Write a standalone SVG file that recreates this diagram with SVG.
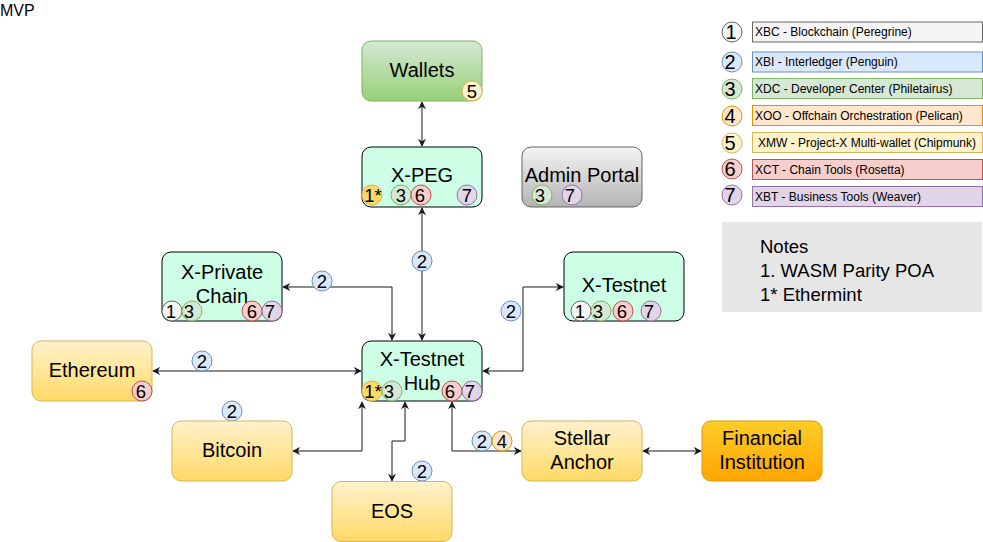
<svg xmlns="http://www.w3.org/2000/svg" width="983" height="542" viewBox="0 0 983 542">
<defs>
<linearGradient id="gY" x1="0" y1="0" x2="0" y2="1"><stop offset="0" stop-color="#fff2cc"/><stop offset="1" stop-color="#ffd966"/></linearGradient>
<linearGradient id="gG" x1="0" y1="0" x2="0" y2="1"><stop offset="0" stop-color="#d5e8d4"/><stop offset="1" stop-color="#97d077"/></linearGradient>
<linearGradient id="gA" x1="0" y1="0" x2="0" y2="1"><stop offset="0" stop-color="#f5f5f5"/><stop offset="1" stop-color="#b3b3b3"/></linearGradient>
<linearGradient id="gO" x1="0" y1="0" x2="0" y2="1"><stop offset="0" stop-color="#ffcd28"/><stop offset="1" stop-color="#ffa500"/></linearGradient>
<marker id="ah" viewBox="0 0 10 10" refX="9" refY="5" markerWidth="8" markerHeight="8" orient="auto-start-reverse" markerUnits="userSpaceOnUse">
<path d="M0,0 L10,5 L0,10 L3,5 Z" fill="#1a1a1a"/>
</marker>
</defs>
<style>
text{font-family:"Liberation Sans",Arial,Helvetica,sans-serif;fill:#000}
.t{font-size:20px;text-anchor:middle}
.b{font-size:18.5px;text-anchor:middle}
.lg{font-size:12px}
.mint{fill:#ccffe6;stroke:#000;stroke-width:1}
.yel{fill:url(#gY);stroke:#d6b656}
.c1{fill:#f5f5f5;stroke:#666666}
.c2{fill:#dae8fc;stroke:#6c8ebf}
.c3{fill:#d5e8d4;stroke:#82b366}
.c4{fill:#ffe6cc;stroke:#d79b00}
.c5{fill:#fff2cc;stroke:#d6b656}
.c6{fill:#f8cecc;stroke:#b85450}
.c7{fill:#e1d5e7;stroke:#9673a6}
.c1s{fill:#ffd966;stroke:#d6b656}
.e{fill:none;stroke:#1a1a1a;stroke-width:1;marker-start:url(#ah);marker-end:url(#ah)}
</style>

<text x="0" y="16" style="font-size:16px">MVP</text>

<g id="connectors">
<path class="e" d="M422,102 L422,146"/>
<path class="e" d="M422,208 L422,340"/>
<path class="e" d="M283,287 L392,287 L392,340"/>
<path class="e" d="M483,371 L523,371 L523,287 L563,287"/>
<path class="e" d="M153,371 L361,371"/>
<path class="e" d="M293,451 L362,451 L362,402"/>
<path class="e" d="M392,481 L392,441 L405,441 L405,402"/>
<path class="e" d="M452,402 L452,451 L521,451"/>
<path class="e" d="M643,451 L701,451"/>
</g>

<g id="edge-labels">
<circle class="c2" cx="422" cy="261" r="10"/><text class="b" x="422" y="267.5">2</text>
<circle class="c2" cx="322" cy="281" r="10"/><text class="b" x="322" y="287.5">2</text>
<circle class="c2" cx="511" cy="311" r="10"/><text class="b" x="511" y="317.5">2</text>
<circle class="c2" cx="202" cy="361" r="10"/><text class="b" x="202" y="367.5">2</text>
<circle class="c2" cx="232" cy="411" r="10"/><text class="b" x="232" y="417.5">2</text>
<circle class="c2" cx="422" cy="471" r="10"/><text class="b" x="422" y="477.5">2</text>
<circle class="c2" cx="482" cy="441" r="10"/><text class="b" x="482" y="447.5">2</text>
<circle class="c4" cx="502" cy="441" r="10"/><text class="b" x="502" y="447.5">4</text>
</g>

<g id="wallets">
<rect x="362" y="41" width="120" height="60" rx="9" fill="url(#gG)" stroke="#82b366"/>
<text class="t" x="422" y="77">Wallets</text>
<circle class="c5" cx="472" cy="91" r="10"/><text class="b" x="472" y="97.5">5</text>
</g>

<g id="xpeg">
<rect class="mint" x="362" y="147" width="120" height="60" rx="9"/>
<text class="t" x="422" y="182">X-PEG</text>
<circle class="c1s" cx="372" cy="195" r="10"/><text class="b" x="373" y="201.5">1*</text>
<circle class="c3" cx="401" cy="195" r="10"/><text class="b" x="401" y="201.5">3</text>
<circle class="c6" cx="421" cy="195" r="10"/><text class="b" x="420" y="201.5">6</text>
<circle class="c7" cx="467" cy="195" r="10"/><text class="b" x="467" y="201.5">7</text>
</g>

<g id="admin">
<rect x="522" y="147" width="120" height="60" rx="9" fill="url(#gA)" stroke="#666666"/>
<text class="t" x="582" y="182">Admin Portal</text>
<circle class="c3" cx="542" cy="195" r="10"/><text class="b" x="540" y="201.5">3</text>
<circle class="c7" cx="572" cy="195" r="10"/><text class="b" x="570" y="201.5">7</text>
</g>

<g id="xprivate">
<rect class="mint" x="162" y="252" width="120" height="69" rx="9"/>
<text class="t" x="222" y="279">X-Private</text>
<text class="t" x="222" y="303">Chain</text>
<circle class="c1" cx="172" cy="311" r="10"/><text class="b" x="171" y="317.5">1</text>
<circle class="c3" cx="192" cy="311" r="10"/><text class="b" x="189" y="317.5">3</text>
<circle class="c6" cx="252" cy="311" r="10"/><text class="b" x="252" y="317.5">6</text>
<circle class="c7" cx="272" cy="311" r="10"/><text class="b" x="270" y="317.5">7</text>
</g>

<g id="xtestnet">
<rect class="mint" x="564" y="252" width="120" height="69" rx="9"/>
<text class="t" x="624" y="292">X-Testnet</text>
<circle class="c1" cx="581" cy="311" r="10"/><text class="b" x="580" y="317.5">1</text>
<circle class="c3" cx="601" cy="311" r="10"/><text class="b" x="598" y="317.5">3</text>
<circle class="c6" cx="623" cy="311" r="10"/><text class="b" x="622" y="317.5">6</text>
<circle class="c7" cx="651" cy="311" r="10"/><text class="b" x="649" y="317.5">7</text>
</g>

<g id="hub">
<rect class="mint" x="362" y="341" width="120" height="60" rx="9"/>
<text class="t" x="422" y="366">X-Testnet</text>
<text class="t" x="422" y="390">Hub</text>
<circle class="c1s" cx="372" cy="391" r="10"/>
<circle class="c3" cx="392" cy="391" r="10"/>
<text class="b" x="373" y="397.5">1*</text><text class="b" x="389" y="397.5">3</text>
<circle class="c6" cx="452" cy="391" r="10"/><text class="b" x="450" y="397.5">6</text>
<circle class="c7" cx="472" cy="391" r="10"/><text class="b" x="470" y="397.5">7</text>
</g>

<g id="ethereum">
<rect class="yel" x="32" y="341" width="120" height="60" rx="9"/>
<text class="t" x="92" y="377">Ethereum</text>
<circle class="c6" cx="142" cy="391" r="10"/><text class="b" x="141" y="397.5">6</text>
</g>

<g id="bitcoin">
<rect class="yel" x="172" y="421" width="120" height="60" rx="9"/>
<text class="t" x="232" y="457">Bitcoin</text>
</g>

<g id="eos">
<rect class="yel" x="332" y="481.5" width="120" height="60" rx="9"/>
<text class="t" x="392" y="518">EOS</text>
</g>

<g id="stellar">
<rect class="yel" x="522" y="421" width="120" height="60" rx="9"/>
<text class="t" x="582" y="445">Stellar</text>
<text class="t" x="582" y="469">Anchor</text>
</g>

<g id="financial">
<rect x="702" y="421" width="120" height="60" rx="9" fill="url(#gO)" stroke="#d79b00"/>
<text class="t" x="762" y="445">Financial</text>
<text class="t" x="762" y="469">Institution</text>
</g>

<g id="legend">
<circle class="c1" cx="732" cy="32" r="10"/><text class="b" x="731" y="39" style="font-size:20px">1</text>
<rect class="c1" x="752.5" y="22" width="230" height="20"/><text class="lg" x="755" y="36">XBC - Blockchain (Peregrine)</text>
<circle class="c2" cx="732" cy="62" r="10"/><text class="b" x="730" y="69" style="font-size:20px">2</text>
<rect class="c2" x="752.5" y="52" width="230" height="20"/><text class="lg" x="755" y="66">XBI - Interledger (Penguin)</text>
<circle class="c3" cx="732" cy="89" r="10"/><text class="b" x="730" y="96" style="font-size:20px">3</text>
<rect class="c3" x="752.5" y="78.5" width="230" height="20"/><text class="lg" x="755" y="93">XDC - Developer Center (Philetairus)</text>
<circle class="c4" cx="732" cy="116" r="10"/><text class="b" x="730" y="123" style="font-size:20px">4</text>
<rect class="c4" x="752.5" y="105.5" width="230" height="20"/><text class="lg" x="755" y="120">XOO - Offchain Orchestration  (Pelican)</text>
<circle class="c5" cx="732" cy="143" r="10"/><text class="b" x="730" y="150" style="font-size:20px">5</text>
<rect class="c5" x="752.5" y="132.5" width="230" height="20"/><text class="lg" x="758" y="147">XMW - Project-X Multi-wallet (Chipmunk)</text>
<circle class="c6" cx="732" cy="169" r="10"/><text class="b" x="730" y="176" style="font-size:20px">6</text>
<rect class="c6" x="752.5" y="159.5" width="230" height="20"/><text class="lg" x="755" y="174">XCT - Chain Tools (Rosetta)</text>
<circle class="c7" cx="732" cy="195" r="10"/><text class="b" x="730" y="202" style="font-size:20px">7</text>
<rect class="c7" x="752.5" y="186.5" width="230" height="20"/><text class="lg" x="755" y="201">XBT - Business Tools (Weaver)</text>
</g>

<g id="notes">
<rect x="722" y="222" width="260" height="90" fill="#e6e6e6"/>
<text x="760" y="253" style="font-size:18.5px">Notes</text>
<text x="760" y="277" style="font-size:18.5px">1. WASM Parity POA</text>
<text x="760" y="301" style="font-size:18.5px">1* Ethermint</text>
</g>
</svg>
